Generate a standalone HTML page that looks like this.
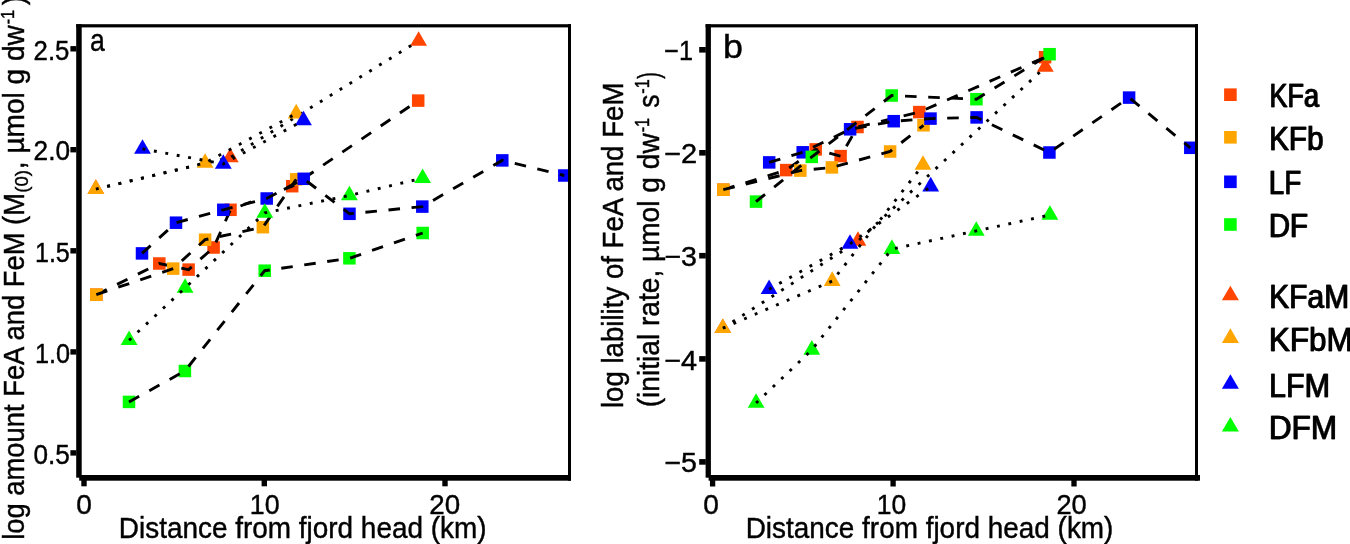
<!DOCTYPE html><html><head><meta charset="utf-8"><style>html,body{margin:0;padding:0;background:#fff;overflow:hidden;}svg{display:block;}text{font-family:"Liberation Sans",sans-serif;fill:#000;}</style></head><body>
<svg width="1350" height="544" viewBox="0 0 1350 544">
<rect width="1350" height="544" fill="#fff"/>
<defs><clipPath id="ca"><rect x="81.7" y="27.4" width="486.3" height="447.6"/></clipPath>
<clipPath id="cb"><rect x="710.9" y="27.4" width="484.1" height="447.6"/></clipPath></defs>
<g clip-path="url(#ca)">
<rect x="90.05" y="288.45" width="12.5" height="12.5" fill="#FF4500"/>
<rect x="153.05" y="257.25" width="12.5" height="12.5" fill="#FF4500"/>
<rect x="182.35" y="263.35" width="12.5" height="12.5" fill="#FF4500"/>
<rect x="207.35" y="241.25" width="12.5" height="12.5" fill="#FF4500"/>
<rect x="224.25" y="203.55" width="12.5" height="12.5" fill="#FF4500"/>
<rect x="285.95" y="179.95" width="12.5" height="12.5" fill="#FF4500"/>
<rect x="411.95" y="94.35" width="12.5" height="12.5" fill="#FF4500"/>
<polyline points="96.3,294.7 159.3,263.5 188.6,269.6 213.6,247.5 230.5,209.8 292.2,186.2 418.2,100.6" fill="none" stroke="#000" stroke-width="2.9" stroke-dasharray="11.6 11.6" stroke-linecap="butt" stroke-linejoin="miter"/>
<polygon points="95.85,179.37 104.25,193.97 87.45,193.97" fill="#FF4500"/>
<polygon points="230.3,147.77 238.7,162.37 221.9,162.37" fill="#FF4500"/>
<polygon points="418.6,31.17 427,45.77 410.2,45.77" fill="#FF4500"/>
<polyline points="95.85,189.1 230.3,157.5 418.6,40.9" fill="none" stroke="#000" stroke-width="2.9" stroke-dasharray="2.9 8.7" stroke-linecap="butt" stroke-linejoin="miter"/>
<rect x="90.05" y="288.45" width="12.5" height="12.5" fill="#FFA500"/>
<rect x="166.95" y="262.35" width="12.5" height="12.5" fill="#FFA500"/>
<rect x="198.85" y="233.45" width="12.5" height="12.5" fill="#FFA500"/>
<rect x="256.65" y="220.95" width="12.5" height="12.5" fill="#FFA500"/>
<rect x="289.95" y="173.05" width="12.5" height="12.5" fill="#FFA500"/>
<polyline points="96.3,294.7 173.2,268.6 205.1,239.7 262.9,227.2 296.2,179.3" fill="none" stroke="#000" stroke-width="2.9" stroke-dasharray="11.6 11.6" stroke-linecap="butt" stroke-linejoin="miter"/>
<polygon points="95.85,179.37 104.25,193.97 87.45,193.97" fill="#FFA500"/>
<polygon points="205.1,153.27 213.5,167.87 196.7,167.87" fill="#FFA500"/>
<polygon points="296.2,103.87 304.6,118.47 287.8,118.47" fill="#FFA500"/>
<polyline points="95.85,189.1 205.1,163 296.2,113.6" fill="none" stroke="#000" stroke-width="2.9" stroke-dasharray="2.9 8.7" stroke-linecap="butt" stroke-linejoin="miter"/>
<rect x="135.75" y="247.15" width="12.5" height="12.5" fill="#0000FF"/>
<rect x="169.75" y="216.45" width="12.5" height="12.5" fill="#0000FF"/>
<rect x="217.05" y="203.55" width="12.5" height="12.5" fill="#0000FF"/>
<rect x="260.45" y="192.25" width="12.5" height="12.5" fill="#0000FF"/>
<rect x="297.45" y="172.55" width="12.5" height="12.5" fill="#0000FF"/>
<rect x="343.25" y="207.55" width="12.5" height="12.5" fill="#0000FF"/>
<rect x="416.05" y="200.35" width="12.5" height="12.5" fill="#0000FF"/>
<rect x="496.05" y="154.15" width="12.5" height="12.5" fill="#0000FF"/>
<rect x="558.05" y="169.25" width="12.5" height="12.5" fill="#0000FF"/>
<polyline points="142,253.4 176,222.7 223.3,209.8 266.7,198.5 303.7,178.8 349.5,213.8 422.3,206.6 502.3,160.4 564.3,175.5" fill="none" stroke="#000" stroke-width="2.9" stroke-dasharray="11.6 11.6" stroke-linecap="butt" stroke-linejoin="miter"/>
<polygon points="142.5,139.17 150.9,153.77 134.1,153.77" fill="#0000FF"/>
<polygon points="223.3,154.17 231.7,168.77 214.9,168.77" fill="#0000FF"/>
<polygon points="303.5,110.77 311.9,125.37 295.1,125.37" fill="#0000FF"/>
<polyline points="142.5,148.9 223.3,163.9 303.5,120.5" fill="none" stroke="#000" stroke-width="2.9" stroke-dasharray="2.9 8.7" stroke-linecap="butt" stroke-linejoin="miter"/>
<rect x="122.75" y="395.65" width="12.5" height="12.5" fill="#00FF00"/>
<rect x="178.65" y="364.75" width="12.5" height="12.5" fill="#00FF00"/>
<rect x="258.45" y="264.45" width="12.5" height="12.5" fill="#00FF00"/>
<rect x="343.15" y="252.05" width="12.5" height="12.5" fill="#00FF00"/>
<rect x="416.45" y="226.75" width="12.5" height="12.5" fill="#00FF00"/>
<polyline points="129,401.9 184.9,371 264.7,270.7 349.4,258.3 422.7,233" fill="none" stroke="#000" stroke-width="2.9" stroke-dasharray="11.6 11.6" stroke-linecap="butt" stroke-linejoin="miter"/>
<polygon points="129.1,330.47 137.5,345.07 120.7,345.07" fill="#00FF00"/>
<polygon points="185.1,278.17 193.5,292.77 176.7,292.77" fill="#00FF00"/>
<polygon points="264.8,203.17 273.2,217.77 256.4,217.77" fill="#00FF00"/>
<polygon points="349.4,185.67 357.8,200.27 341,200.27" fill="#00FF00"/>
<polygon points="422.6,168.47 431,183.07 414.2,183.07" fill="#00FF00"/>
<polyline points="129.1,340.2 185.1,287.9 264.8,212.9 349.4,195.4 422.6,178.2" fill="none" stroke="#000" stroke-width="2.9" stroke-dasharray="2.9 8.7" stroke-linecap="butt" stroke-linejoin="miter"/>
</g>
<g clip-path="url(#cb)">
<rect x="717.05" y="183.45" width="12.5" height="12.5" fill="#FF4500"/>
<rect x="779.95" y="163.85" width="12.5" height="12.5" fill="#FF4500"/>
<rect x="809.45" y="143.15" width="12.5" height="12.5" fill="#FF4500"/>
<rect x="834.35" y="149.85" width="12.5" height="12.5" fill="#FF4500"/>
<rect x="851.25" y="120.75" width="12.5" height="12.5" fill="#FF4500"/>
<rect x="913.05" y="105.85" width="12.5" height="12.5" fill="#FF4500"/>
<rect x="1038.85" y="50.95" width="12.5" height="12.5" fill="#FF4500"/>
<polyline points="723.3,189.7 786.2,170.1 815.7,149.4 840.6,156.1 857.5,127 919.3,112.1 1045.1,57.2" fill="none" stroke="#000" stroke-width="2.9" stroke-dasharray="11.6 11.6" stroke-linecap="butt" stroke-linejoin="miter"/>
<polygon points="722.8,318.47 731.2,333.07 714.4,333.07" fill="#FF4500"/>
<polygon points="858,231.27 866.4,245.87 849.6,245.87" fill="#FF4500"/>
<polygon points="1045.3,57.27 1053.7,71.87 1036.9,71.87" fill="#FF4500"/>
<polyline points="722.8,328.2 858,241 1045.3,67" fill="none" stroke="#000" stroke-width="2.9" stroke-dasharray="2.9 8.7" stroke-linecap="butt" stroke-linejoin="miter"/>
<rect x="717.05" y="183.45" width="12.5" height="12.5" fill="#FFA500"/>
<rect x="794.05" y="164.35" width="12.5" height="12.5" fill="#FFA500"/>
<rect x="825.65" y="161.15" width="12.5" height="12.5" fill="#FFA500"/>
<rect x="883.85" y="145.25" width="12.5" height="12.5" fill="#FFA500"/>
<rect x="917.25" y="119.05" width="12.5" height="12.5" fill="#FFA500"/>
<polyline points="723.3,189.7 800.3,170.6 831.9,167.4 890.1,151.5 923.5,125.3" fill="none" stroke="#000" stroke-width="2.9" stroke-dasharray="11.6 11.6" stroke-linecap="butt" stroke-linejoin="miter"/>
<polygon points="722.8,318.47 731.2,333.07 714.4,333.07" fill="#FFA500"/>
<polygon points="832.2,271.37 840.6,285.97 823.8,285.97" fill="#FFA500"/>
<polygon points="923,155.27 931.4,169.87 914.6,169.87" fill="#FFA500"/>
<polyline points="722.8,328.2 832.2,281.1 923,165" fill="none" stroke="#000" stroke-width="2.9" stroke-dasharray="2.9 8.7" stroke-linecap="butt" stroke-linejoin="miter"/>
<rect x="762.95" y="156.15" width="12.5" height="12.5" fill="#0000FF"/>
<rect x="796.45" y="146.05" width="12.5" height="12.5" fill="#0000FF"/>
<rect x="843.85" y="123.05" width="12.5" height="12.5" fill="#0000FF"/>
<rect x="887.45" y="114.95" width="12.5" height="12.5" fill="#0000FF"/>
<rect x="924.25" y="112.35" width="12.5" height="12.5" fill="#0000FF"/>
<rect x="970.35" y="111.15" width="12.5" height="12.5" fill="#0000FF"/>
<rect x="1043.15" y="146.25" width="12.5" height="12.5" fill="#0000FF"/>
<rect x="1122.85" y="91.35" width="12.5" height="12.5" fill="#0000FF"/>
<rect x="1184.05" y="141.55" width="12.5" height="12.5" fill="#0000FF"/>
<polyline points="769.2,162.4 802.7,152.3 850.1,129.3 893.7,121.2 930.5,118.6 976.6,117.4 1049.4,152.5 1129.1,97.6 1190.3,147.8" fill="none" stroke="#000" stroke-width="2.9" stroke-dasharray="11.6 11.6" stroke-linecap="butt" stroke-linejoin="miter"/>
<polygon points="769.1,279.47 777.5,294.07 760.7,294.07" fill="#0000FF"/>
<polygon points="850,234.17 858.4,248.77 841.6,248.77" fill="#0000FF"/>
<polygon points="930.7,176.87 939.1,191.47 922.3,191.47" fill="#0000FF"/>
<polyline points="769.1,289.2 850,243.9 930.7,186.6" fill="none" stroke="#000" stroke-width="2.9" stroke-dasharray="2.9 8.7" stroke-linecap="butt" stroke-linejoin="miter"/>
<rect x="749.75" y="195.35" width="12.5" height="12.5" fill="#00FF00"/>
<rect x="805.55" y="150.65" width="12.5" height="12.5" fill="#00FF00"/>
<rect x="885.45" y="89.25" width="12.5" height="12.5" fill="#00FF00"/>
<rect x="970.15" y="92.95" width="12.5" height="12.5" fill="#00FF00"/>
<rect x="1043.35" y="47.95" width="12.5" height="12.5" fill="#00FF00"/>
<polyline points="756,201.6 811.8,156.9 891.7,95.5 976.4,99.2 1049.6,54.2" fill="none" stroke="#000" stroke-width="2.9" stroke-dasharray="11.6 11.6" stroke-linecap="butt" stroke-linejoin="miter"/>
<polygon points="756.1,393.27 764.5,407.87 747.7,407.87" fill="#00FF00"/>
<polygon points="811.8,340.07 820.2,354.67 803.4,354.67" fill="#00FF00"/>
<polygon points="891.9,239.37 900.3,253.97 883.5,253.97" fill="#00FF00"/>
<polygon points="976.3,221.17 984.7,235.77 967.9,235.77" fill="#00FF00"/>
<polygon points="1049.9,205.27 1058.3,219.87 1041.5,219.87" fill="#00FF00"/>
<polyline points="756.1,403 811.8,349.8 891.9,249.1 976.3,230.9 1049.9,215" fill="none" stroke="#000" stroke-width="2.9" stroke-dasharray="2.9 8.7" stroke-linecap="butt" stroke-linejoin="miter"/>
</g>
<rect x="76.2" y="24.2" width="494.8" height="3.2" fill="#000"/>
<rect x="568" y="24.2" width="3" height="456.5" fill="#000"/>
<rect x="76.2" y="24.2" width="5.5" height="453.5" fill="#000"/>
<rect x="79.2" y="475" width="491.8" height="5.7" fill="#000"/>
<rect x="705.6" y="24.2" width="492.4" height="3.2" fill="#000"/>
<rect x="1195" y="24.2" width="3" height="456.5" fill="#000"/>
<rect x="705.6" y="24.2" width="5.3" height="453.5" fill="#000"/>
<rect x="708.6" y="475" width="491.4" height="5.7" fill="#000"/>
<rect x="70.4" y="46.1" width="6" height="5.4" fill="#000"/>
<rect x="70.4" y="147" width="6" height="5.4" fill="#000"/>
<rect x="70.4" y="248.1" width="6" height="5.4" fill="#000"/>
<rect x="70.4" y="349.2" width="6" height="5.4" fill="#000"/>
<rect x="70.4" y="450.2" width="6" height="5.4" fill="#000"/>
<rect x="81.3" y="480" width="5.4" height="6.3" fill="#000"/>
<rect x="261.6" y="480" width="5.4" height="6.3" fill="#000"/>
<rect x="442.3" y="480" width="5.4" height="6.3" fill="#000"/>
<rect x="699.2" y="47" width="6.6" height="5.6" fill="#000"/>
<rect x="699.2" y="150" width="6.6" height="5.6" fill="#000"/>
<rect x="699.2" y="252.9" width="6.6" height="5.6" fill="#000"/>
<rect x="699.2" y="356.1" width="6.6" height="5.6" fill="#000"/>
<rect x="699.2" y="459.1" width="6.6" height="5.6" fill="#000"/>
<rect x="709.95" y="480" width="5.3" height="6.5" fill="#000"/>
<rect x="890.45" y="480" width="5.3" height="6.5" fill="#000"/>
<rect x="1071.35" y="480" width="5.3" height="6.5" fill="#000"/>
<g opacity="0.999"><text transform="translate(33.59 59.62) scale(0.8895 0.9619)" font-size="29" stroke="#000" stroke-width="0.45">2.5</text>
<text transform="translate(33.57 160.43) scale(0.9046 0.9476)" font-size="29" stroke="#000" stroke-width="0.45">2.0</text>
<text transform="translate(34.97 261.52) scale(0.8644 0.9590)" font-size="29" stroke="#000" stroke-width="0.45">1.5</text>
<text transform="translate(34.96 362.53) scale(0.8720 0.9476)" font-size="29" stroke="#000" stroke-width="0.45">1.0</text>
<text transform="translate(33.5 463.62) scale(0.9020 0.9524)" font-size="29" stroke="#000" stroke-width="0.45">0.5</text>
<text transform="translate(664.21 59.57) scale(0.8689 0.9317)" font-size="29" stroke="#000" stroke-width="0.45">−1</text>
<text transform="translate(664.05 163.06) scale(1.0000 0.9542)" font-size="29" stroke="#000" stroke-width="0.45">−2</text>
<text transform="translate(664.27 266.33) scale(0.9854 0.9476)" font-size="29" stroke="#000" stroke-width="0.45">−3</text>
<text transform="translate(664.26 369.56) scale(0.9952 0.9707)" font-size="29" stroke="#000" stroke-width="0.45">−4</text>
<text transform="translate(664.27 472.42) scale(0.9854 0.9542)" font-size="29" stroke="#000" stroke-width="0.45">−5</text>
<text transform="translate(76.23 514.33) scale(0.9684 0.9381)" font-size="29" stroke="#000" stroke-width="0.45">0</text>
<text transform="translate(249.75 514.13) scale(0.9231 0.9333)" font-size="29" stroke="#000" stroke-width="0.45">10</text>
<text transform="translate(429.3 514.33) scale(0.9567 0.9429)" font-size="29" stroke="#000" stroke-width="0.45">20</text>
<text transform="translate(703.13 514.33) scale(0.9684 0.9381)" font-size="29" stroke="#000" stroke-width="0.45">0</text>
<text transform="translate(876.67 514.13) scale(0.9128 0.9333)" font-size="29" stroke="#000" stroke-width="0.45">10</text>
<text transform="translate(1056.42 514.33) scale(0.9400 0.9429)" font-size="29" stroke="#000" stroke-width="0.45">20</text>
<text transform="translate(118.8 538) scale(0.9314 1.0000)" font-size="30" stroke="#000" stroke-width="0.45">Distance from fjord head (km)</text>
<text transform="translate(745.7 538) scale(0.9311 1.0000)" font-size="30" stroke="#000" stroke-width="0.45">Distance from fjord head (km)</text>
<text transform="translate(89.92 51.03) scale(0.7833 0.9421)" font-size="34" stroke="#000" stroke-width="0.45">a</text>
<text transform="translate(723.09 58.4) scale(1.0540 0.9901)" font-size="34" stroke="#000" stroke-width="0.45">b</text>
<text transform="translate(1269.01 107) scale(0.7967 1.0000)" font-size="34" stroke="#000" stroke-width="0.45">KFa</text>
<text transform="translate(0.8,0) translate(1269.01 107) scale(0.7967 1.0000)" font-size="34" stroke="#000" stroke-width="0.45">KFa</text>
<text transform="translate(1268.82 150.1) scale(0.8715 1.0000)" font-size="34" stroke="#000" stroke-width="0.45">KFb</text>
<text transform="translate(0.8,0) translate(1268.82 150.1) scale(0.8715 1.0000)" font-size="34" stroke="#000" stroke-width="0.45">KFb</text>
<text transform="translate(1268.57 194.3) scale(0.8111 1.0000)" font-size="34" stroke="#000" stroke-width="0.45">LF</text>
<text transform="translate(0.8,0) translate(1268.57 194.3) scale(0.8111 1.0000)" font-size="34" stroke="#000" stroke-width="0.45">LF</text>
<text transform="translate(1268.44 236.9) scale(0.8623 1.0000)" font-size="34" stroke="#000" stroke-width="0.45">DF</text>
<text transform="translate(0.8,0) translate(1268.44 236.9) scale(0.8623 1.0000)" font-size="34" stroke="#000" stroke-width="0.45">DF</text>
<text transform="translate(1268.69 308.3) scale(0.8840 1.0000)" font-size="34" stroke="#000" stroke-width="0.45">KFaM</text>
<text transform="translate(0.7,0) translate(1268.69 308.3) scale(0.8840 1.0000)" font-size="34" stroke="#000" stroke-width="0.45">KFaM</text>
<text transform="translate(1268.59 351) scale(0.9248 1.0000)" font-size="34" stroke="#000" stroke-width="0.45">KFbM</text>
<text transform="translate(0.6,0) translate(1268.59 351) scale(0.9248 1.0000)" font-size="34" stroke="#000" stroke-width="0.45">KFbM</text>
<text transform="translate(1268.65 396.6) scale(0.8984 1.0000)" font-size="34" stroke="#000" stroke-width="0.45">LFM</text>
<text transform="translate(0.7,0) translate(1268.65 396.6) scale(0.8984 1.0000)" font-size="34" stroke="#000" stroke-width="0.45">LFM</text>
<text transform="translate(1268.59 438.8) scale(0.9255 1.0000)" font-size="34" stroke="#000" stroke-width="0.45">DFM</text>
<text transform="translate(0.6,0) translate(1268.59 438.8) scale(0.9255 1.0000)" font-size="34" stroke="#000" stroke-width="0.45">DFM</text>
<g transform="rotate(-90)">
<text transform="translate(-539.85 24.4) scale(0.9442 1.0000)" font-size="29" stroke="#000" stroke-width="0.45">log amount FeA and FeM (M</text>
<text transform="translate(-192.73 27.93) scale(0.9289 0.9579)" font-size="20" stroke="#000" stroke-width="0.45">(0)</text>
<text transform="translate(-169.18 24.4) scale(0.9673 1.0000)" font-size="29" stroke="#000" stroke-width="0.45">, µmol g dw</text>
<text transform="translate(-24.31 14.07) scale(0.8123 0.9263)" font-size="20" stroke="#000" stroke-width="0.45">-1</text>
<text transform="translate(-5.25 24.4) scale(1.0000 1.0000)" font-size="29" stroke="#000" stroke-width="0.45">)</text>
<text transform="translate(-408.07 623) scale(0.9528 1.0000)" font-size="29" stroke="#000" stroke-width="0.45">log lability of FeA and FeM</text>
<text transform="translate(-407.25 659) scale(0.9698 1.0000)" font-size="29" stroke="#000" stroke-width="0.45">(initial rate, µmol g dw</text>
<text transform="translate(-132.31 649.05) scale(0.8123 1.0035)" font-size="20" stroke="#000" stroke-width="0.45">-1</text>
<text transform="translate(-107.86 659) scale(0.9132 1.0000)" font-size="29" stroke="#000" stroke-width="0.45">s</text>
<text transform="translate(-93.71 649.05) scale(0.8123 1.0035)" font-size="20" stroke="#000" stroke-width="0.45">-1</text>
<text transform="translate(-78.63 659) scale(0.6788 1.0000)" font-size="29" stroke="#000" stroke-width="0.45">)</text>
</g></g>
<rect x="1224.1" y="88.4" width="12.6" height="12.6" fill="#FF4500"/>
<rect x="1224.1" y="131" width="12.6" height="12.6" fill="#FFA500"/>
<rect x="1224.1" y="175.5" width="12.6" height="12.6" fill="#0000FF"/>
<rect x="1224.1" y="218.2" width="12.6" height="12.6" fill="#00FF00"/>
<polygon points="1230.4,285.77 1238.9,300.37 1221.9,300.37" fill="#FF4500"/>
<polygon points="1230.4,328.37 1238.9,342.97 1221.9,342.97" fill="#FFA500"/>
<polygon points="1230.4,374.17 1238.9,388.77 1221.9,388.77" fill="#0000FF"/>
<polygon points="1230.4,416.97 1238.9,431.57 1221.9,431.57" fill="#00FF00"/>
</svg></body></html>
